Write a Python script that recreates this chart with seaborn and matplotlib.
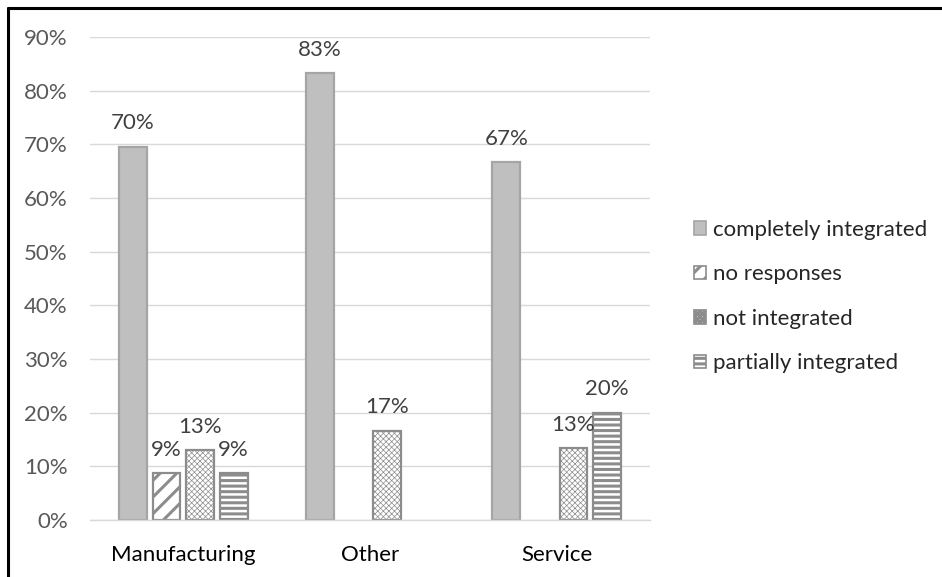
import matplotlib
matplotlib.use("Agg")
import matplotlib.pyplot as plt
from matplotlib.patches import Patch
from matplotlib.lines import Line2D
import seaborn as sns
import pandas as pd

sectors = ["Manufacturing", "Other", "Service"]
statuses = ["completely integrated", "no responses", "not integrated", "partially integrated"]

manufacturing = [16/23, 2/23, 3/23, 2/23]
other = [5/6, None, 1/6, None]
service = [10/15, None, 2/15, 3/15]

yticks = [0.0, 0.1, 0.2, 0.3, 0.4, 0.5, 0.6, 0.7, 0.8, 0.9]

rows = []
for sector, vals in zip(sectors, [manufacturing, other, service]):
    for status, v in zip(statuses, vals):
        if v is not None:
            rows.append({"sector": sector, "status": status, "share": v})
df = pd.DataFrame(rows)

sns.set_theme(style="white")
plt.rcParams["font.family"] = ["Lato", "DejaVu Sans"]
plt.rcParams["hatch.linewidth"] = 2.2

FS = 16

fills = {"completely integrated": "#BFBFBF", "no responses": "#FFFFFF",
         "not integrated": "#FFFFFF", "partially integrated": "#FFFFFF"}
hatches = {"completely integrated": "", "no responses": "//",
           "not integrated": "xxxxxx", "partially integrated": "---"}
edges = {"completely integrated": "#A5A5A5", "no responses": "#8C8C8C",
         "not integrated": "#8C8C8C", "partially integrated": "#8C8C8C"}
hatch_lw = {"completely integrated": 1.0, "no responses": 2.2,
            "not integrated": 0.5, "partially integrated": 2.2}


def style_patch(p, status):
    p.set_hatch(hatches[status])
    p.set_edgecolor(edges[status])
    if hasattr(p, "set_hatch_linewidth"):
        p.set_hatch_linewidth(hatch_lw[status])
    else:
        p._hatch_linewidth = hatch_lw[status]


fig = plt.figure(figsize=(9.42, 5.77), dpi=100)
ax = fig.add_axes([90/942, 1 - 520/577, 560/942, 483/577])

sns.barplot(data=df, x="sector", y="share", hue="status", order=sectors,
            hue_order=statuses, palette=fills, width=0.72, gap=0.17,
            errorbar=None, legend=False, ax=ax)

for container, status in zip(ax.containers, statuses):
    for bar in container:
        style_patch(bar, status)
        bar.set_linewidth(1.6)
    labels = [f"{v*100:.0f}%" for v in container.datavalues]
    ax.bar_label(container, labels=labels, padding=9.5, fontsize=FS,
                 color="#404040")

ax.set_ylim(0, 0.9)
ax.set_yticks(yticks)
ax.set_yticklabels([f"{t*100:.0f}%" for t in yticks], fontsize=FS, color="#595959")
ax.tick_params(axis="x", labelsize=FS, labelcolor="#000000", length=0, pad=18)
ax.tick_params(axis="y", length=0, pad=16)
ax.set_xlabel("")
ax.set_ylabel("")
ax.grid(axis="y", color="#D9D9D9", linewidth=1)
ax.set_axisbelow(True)
for side in ["top", "right", "left"]:
    ax.spines[side].set_visible(False)
ax.spines["bottom"].set_color("#D9D9D9")
ax.spines["bottom"].set_linewidth(1)

handles = []
for s in statuses:
    h = Patch(facecolor=fills[s], linewidth=1.2)
    style_patch(h, s)
    handles.append(h)
fig.legend(handles, statuses, loc="upper left", bbox_to_anchor=(685/942, 1 - 211/577),
           frameon=False, fontsize=FS, handlelength=0.55, handleheight=0.55,
           handletextpad=0.3, labelspacing=1.1, borderaxespad=0)

# outer frame on the left and top edges
fig.add_artist(Line2D([8/942, 8/942], [0, 1 - 8/577], color="black", linewidth=2.2))
fig.add_artist(Line2D([8/942, 1], [1 - 8/577, 1 - 8/577], color="black", linewidth=2.2))

fig.savefig("out.png", dpi=100)
